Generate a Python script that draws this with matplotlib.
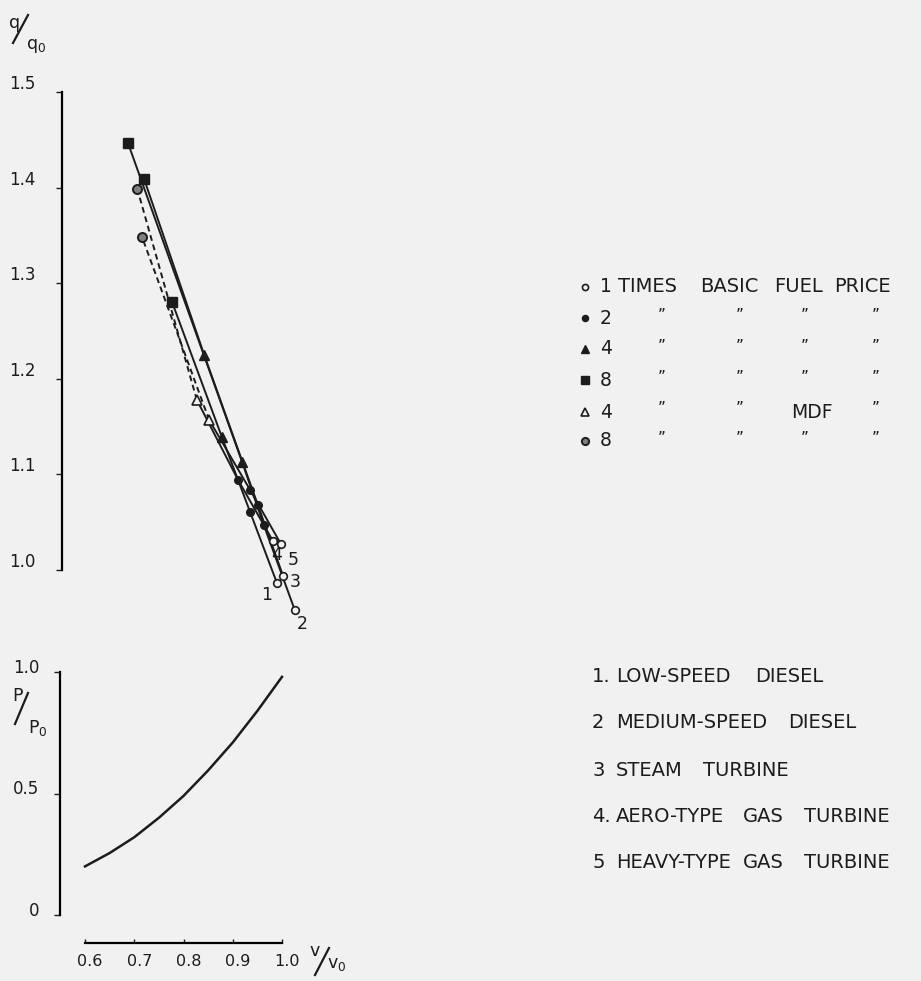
import matplotlib
matplotlib.use('Agg')
import matplotlib.pyplot as plt
from matplotlib.transforms import ScaledTranslation

# fuel-price optimum points per engine type (v/v0, q/q0), ordered 1, 2, 4, 8 x fuel price
fuel_keys = ['1', '2', '4', '8']
fuel_keys_mdf = ['1', '2', '4M', '8M']

low_speed_v = [0.990, 0.935, 0.878, 0.777]
low_speed_q = [0.986, 1.061, 1.139, 1.280]
medium_speed_v = [1.026, 0.963, 0.919, 0.687]
medium_speed_q = [0.958, 1.047, 1.113, 1.447]
steam_v = [1.002, 0.951, 0.842, 0.720]
steam_q = [0.994, 1.068, 1.225, 1.409]
aero_gt_v = [0.982, 0.911, 0.827, 0.706]
aero_gt_q = [1.030, 1.094, 1.178, 1.399]
heavy_gt_v = [0.998, 0.935, 0.852, 0.716]
heavy_gt_q = [1.027, 1.084, 1.157, 1.348]

# power vs speed
power_v = [0.60, 0.65, 0.70, 0.75, 0.80, 0.85, 0.90, 0.95, 1.00]
power_p = [0.20, 0.255, 0.32, 0.40, 0.49, 0.595, 0.71, 0.84, 0.98]

q_ticks = [1.0, 1.1, 1.2, 1.3, 1.4, 1.5]
q_labels = ['1.0', '1.1', '1.2', '1.3', '1.4', '1.5']
p_ticks = [0, 0.5, 1.0]
p_labels = ['0', '0.5', '1.0']
v_ticks = [0.6, 0.7, 0.8, 0.9, 1.0]
v_labels = ['0.6', '0.7', '0.8', '0.9', '1.0']

price_rows = ['1', '2', '4', '8', '4', '8']
header_words = ['TIMES', 'BASIC', 'FUEL', 'PRICE']
engine_words = [['1.', 'LOW-SPEED', 'DIESEL'],
                ['2', 'MEDIUM-SPEED', 'DIESEL'],
                ['3', 'STEAM', 'TURBINE'],
                ['4.', 'AERO-TYPE', 'GAS', 'TURBINE'],
                ['5', 'HEAVY-TYPE', 'GAS', 'TURBINE']]

BG = '#f1f1f1'
INK = '#1c1c1c'
W, H = 921, 981

plt.rcParams['font.family'] = ['DejaVu Sans']
fig = plt.figure(figsize=(9.21, 9.81), dpi=100, facecolor=BG)


def fx(px):
    return px / W


def fy(py):
    return 1 - py / H


def vpx(px):
    # pixel column -> v/v0, shared by both panels
    return 0.6 + (px - 85) / 492.5


def shift(labels, dx, dy):
    for lab in labels:
        lab.set_transform(lab.get_transform() + ScaledTranslation(dx / 100, dy / 100, fig.dpi_scale_trans))


def frac(num, den, npos, slash, dpos):
    # slashed ratio caption, e.g. q/q0: numerator up-left, long stroke, denominator down-right
    fig.text(fx(npos[0]), fy(npos[1]), num, fontsize=12.5, color=INK, ha='center', va='center')
    fig.lines.append(plt.Line2D([fx(slash[0]), fx(slash[2])], [fy(slash[1]), fy(slash[3])],
                                transform=fig.transFigure, color=INK, lw=1.6))
    fig.text(fx(dpos[0]), fy(dpos[1]), den, fontsize=12.5, color=INK, ha='center', va='center')


styles = {
    '1': dict(marker='o', ms=5.5, mfc=BG, mec=INK, mew=1.2),
    '2': dict(marker='o', ms=5.5, mfc=INK, mec=INK),
    '4': dict(marker='^', ms=6.5, mfc=INK, mec=INK),
    '8': dict(marker='s', ms=7, mfc=INK, mec=INK),
    '4M': dict(marker='^', ms=6.5, mfc=BG, mec=INK, mew=1.2),
    '8M': dict(marker='o', ms=6.5, mfc='#808080', mec=INK, mew=1.4),
}

# ---- upper panel
ax1 = fig.add_axes([fx(62), fy(570), fx(330) - fx(62), (570 - 92) / H])
ax1.set_facecolor('none')
ax1.set_xlim(vpx(62), vpx(330))
ax1.set_ylim(1.0, 1.5)
for s in ['top', 'right', 'bottom']:
    ax1.spines[s].set_visible(False)
ax1.spines['left'].set_bounds(1.0, 1.5)
ax1.spines['left'].set_linewidth(1.6)
ax1.set_xticks([])
ax1.set_yticks(q_ticks)
ax1.set_yticklabels(q_labels)
ax1.tick_params(axis='y', direction='out', length=4, width=1, pad=15, labelsize=12, colors=INK)
shift(ax1.get_yticklabels(), 0, 10)

engines = [(low_speed_v, low_speed_q, fuel_keys), (medium_speed_v, medium_speed_q, fuel_keys),
           (steam_v, steam_q, fuel_keys), (aero_gt_v, aero_gt_q, fuel_keys_mdf),
           (heavy_gt_v, heavy_gt_q, fuel_keys_mdf)]
for i, (v, q, keys) in enumerate(engines):
    if i >= 3:
        # MDF branch drawn dashed
        ax1.plot(v[:3], q[:3], color=INK, lw=1.4, clip_on=False, zorder=2)
        ax1.plot(v[2:], q[2:], color=INK, lw=1.4, ls=(0, (3, 2)), clip_on=False, zorder=2)
    else:
        ax1.plot(v, q, color=INK, lw=1.4, clip_on=False, zorder=2)
    for vv, qq, k in zip(v, q, keys):
        ax1.plot([vv], [qq], ls='none', clip_on=False, zorder=3, **styles[k])

for txt, px, py in [('1', 267, 595), ('2', 302, 624), ('3', 295, 582), ('4', 277, 555), ('5', 293, 560)]:
    fig.text(fx(px), fy(py), txt, fontsize=12.5, color=INK, ha='center', va='center')

# ---- lower panel
ax2 = fig.add_axes([fx(60), fy(915), fx(330) - fx(60), (915 - 672) / H])
ax2.set_facecolor('none')
ax2.plot(power_v, power_p, color=INK, lw=1.8)
ax2.set_xlim(vpx(60), vpx(330))
ax2.set_ylim(0, 1.0)
for s in ['top', 'right']:
    ax2.spines[s].set_visible(False)
ax2.spines['left'].set_bounds(0, 1.0)
ax2.spines['left'].set_linewidth(1.6)
ax2.spines['bottom'].set_position(('outward', 20))
ax2.spines['bottom'].set_bounds(0.6, 1.0)
ax2.spines['bottom'].set_linewidth(1.6)
ax2.set_yticks(p_ticks)
ax2.set_yticklabels(p_labels)
ax2.set_xticks(v_ticks)
ax2.set_xticklabels(v_labels)
ax2.tick_params(axis='y', direction='out', length=4, width=1, pad=11, labelsize=12, colors=INK)
ax2.tick_params(axis='x', direction='in', length=3, width=1, pad=8, labelsize=11.5, colors=INK)
shift(ax2.get_yticklabels(), 0, 6)
shift(ax2.get_xticklabels(), 5, 0)

# axis captions
frac('q', r'$\mathregular{q_0}$', (15, 23), (13, 43, 28, 15), (36, 46))
frac('P', r'$\mathregular{P_0}$', (18, 696), (15, 724, 28, 693), (38, 728))
frac('v', r'$\mathregular{v_0}$', (315, 951), (315, 975, 329, 948), (337, 964))

# ---- fuel price legend
row_y = [287, 318, 349, 380, 412, 441]
row_keys = ['1', '2', '4', '8', '4M', '8M']
for k, num, py in zip(row_keys, price_rows, row_y):
    st = dict(styles[k])
    st['ms'] = st['ms'] * 0.8
    fig.lines.append(plt.Line2D([fx(585)], [fy(py)], transform=fig.transFigure, ls='none', **st))
    fig.text(fx(600), fy(py), num, fontsize=13.5, color=INK, ha='left', va='center')
for w, px in zip(header_words, [618, 700, 774, 834]):
    fig.text(fx(px), fy(287), w, fontsize=14, color=INK, ha='left', va='center')
ditto_x = [662, 740, 805, 876]
for j, py in enumerate(row_y[1:]):
    for m, px in enumerate(ditto_x):
        if j == 3 and m == 2:
            fig.text(fx(812), fy(py), 'MDF', fontsize=13.5, color=INK, ha='center', va='center')
        else:
            fig.text(fx(px), fy(py - 3), '\u201d', fontsize=11, color=INK, ha='center', va='center')

# ---- engine type legend
eng_y = [677, 723, 770, 816, 863]
word_x = [[592, 616, 755],
          [592, 616, 788],
          [592, 616, 703],
          [592, 616, 743, 804],
          [592, 616, 743, 804]]
for words, xs, py in zip(engine_words, word_x, eng_y):
    for w, px in zip(words, xs):
        fig.text(fx(px), fy(py), w, fontsize=14, color=INK, ha='left', va='center')

fig.savefig('out.png', dpi=100, facecolor=BG)
